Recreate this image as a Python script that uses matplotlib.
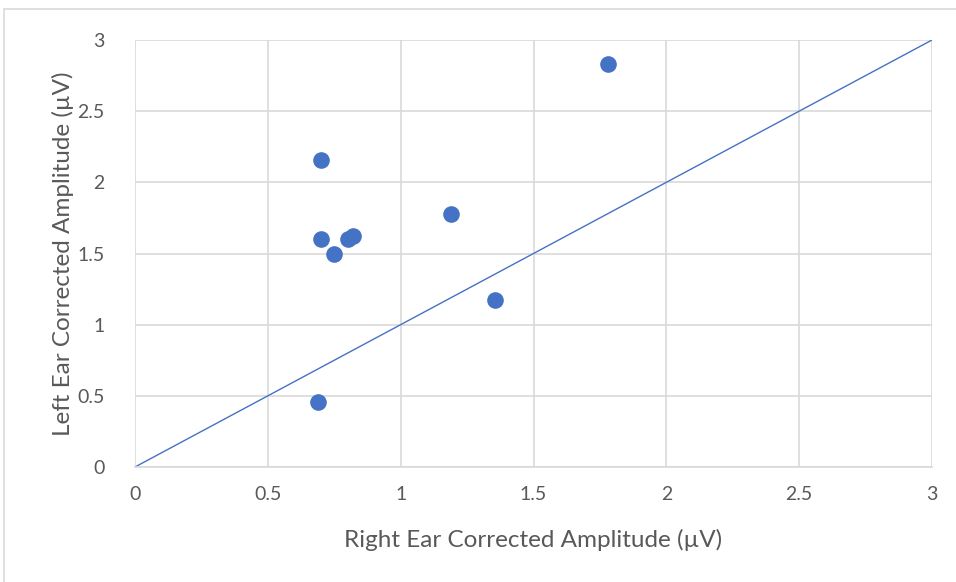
import matplotlib
matplotlib.use("Agg")
import matplotlib.pyplot as plt
from matplotlib.patches import Rectangle

right_ear = [1.78, 0.70, 1.19, 0.70, 0.80, 0.82, 0.75, 1.355, 0.69]
left_ear = [2.83, 2.16, 1.78, 1.60, 1.605, 1.62, 1.50, 1.17, 0.455]
ticks = [0, 0.5, 1, 1.5, 2, 2.5, 3]
tick_labels = ["0", "0.5", "1", "1.5", "2", "2.5", "3"]

plt.rcParams['font.family'] = ['Lato', 'DejaVu Sans']

W, H = 956, 582
fig = plt.figure(figsize=(W / 100, H / 100), dpi=100)
fig.patches.append(Rectangle((4 / W, -0.1), 1.2, 1 - 9 / H + 0.1, transform=fig.transFigure,
                             fill=False, edgecolor="#d9d9d9", linewidth=1.2))

ax = fig.add_axes([135 / W, 1 - 467 / H, (932 - 135) / W, (467 - 40) / H])
ax.set_xlim(0, 3)
ax.set_ylim(0, 3)
ax.set_xticks(ticks)
ax.set_xticklabels(tick_labels)
ax.set_yticks(ticks)
ax.set_yticklabels(tick_labels)
ax.grid(True, color="#d9d9d9", linewidth=1.2)
ax.set_axisbelow(True)
for s in ["top", "right", "left"]:
    ax.spines[s].set_visible(False)
ax.spines["bottom"].set_color("#d9d9d9")
ax.spines["bottom"].set_linewidth(1.2)
ax.tick_params(axis="x", length=0, labelsize=14, colors="#595959", pad=14)
ax.tick_params(axis="y", length=0, labelsize=14, colors="#595959", pad=22)

ax.plot([0, 3], [0, 3], color="#4472c4", linewidth=1, zorder=2)
ax.scatter(right_ear, left_ear, s=120, color="#4472c4", edgecolor="#4472c4", zorder=3, clip_on=False)

ax.set_xlabel("Right Ear Corrected Amplitude (µV)", fontsize=17.5, color="#595959", labelpad=18)
ax.set_ylabel("Left Ear Corrected Amplitude (µV)", fontsize=17.5, color="#595959", labelpad=2)

fig.savefig("out.png", dpi=100, facecolor="white")
